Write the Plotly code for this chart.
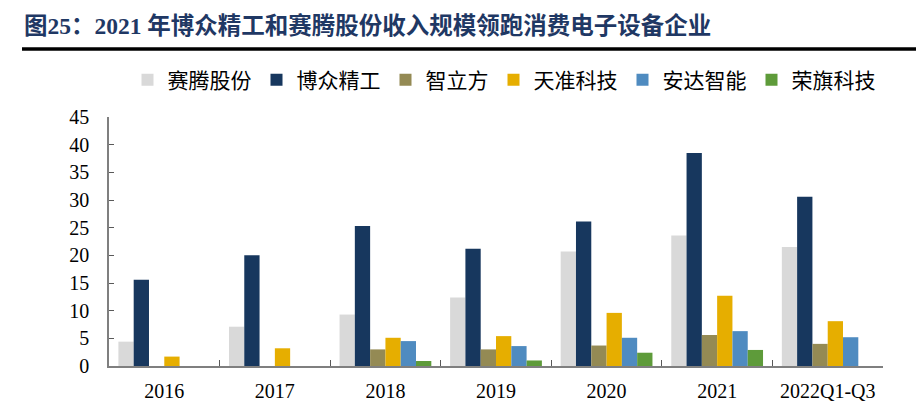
import plotly.graph_objects as go

categories = ["2016", "2017", "2018", "2019", "2020", "2021", "2022Q1-Q3"]
saiteng = [4.4, 7.1, 9.3, 12.4, 20.7, 23.6, 21.5]
bozhong = [15.6, 20.0, 25.3, 21.2, 26.1, 38.5, 30.6]
zhilifang = [None, None, 3.0, 3.0, 3.7, 5.6, 4.0]
tianzhun = [1.7, 3.2, 5.1, 5.4, 9.6, 12.7, 8.1]
anda = [None, None, 4.5, 3.6, 5.1, 6.3, 5.2]
rongqi = [None, None, 0.9, 1.0, 2.4, 2.9, None]

series = [
    ("赛腾股份", saiteng, "#D9D9D9"),
    ("博众精工", bozhong, "#17375E"),
    ("智立方", zhilifang, "#948A54"),
    ("天准科技", tianzhun, "#E6AE00"),
    ("安达智能", anda, "#4F8BC0"),
    ("荣旗科技", rongqi, "#5E9B3A"),
]

fig = go.Figure()
for name, vals, color in series:
    fig.add_trace(go.Bar(name=name, x=categories, y=vals, marker_color=color,
                         marker_line_width=0))

serif = "Liberation Serif, Times New Roman, serif"
cjk = "Liberation Serif, Noto Sans CJK SC, serif"

# page shows figure offset by ~8px (body margin); plot area in figure pixels
L, R, T, B = 101, 875, 109, 358
W = R - L
H = B - T


def px(x):
    return (x - L) / W


def py(y):
    return (B - y) / H


fig.update_layout(
    width=924, height=402,
    margin=dict(l=L, r=924 - R, t=T, b=402 - B, autoexpand=False),
    paper_bgcolor="white", plot_bgcolor="white",
    barmode="group", bargap=0.17, bargroupgap=0,
    showlegend=True,
    legend=dict(orientation="h", x=px(496), xanchor="center", y=py(72), yanchor="middle",
                font=dict(family="Noto Sans CJK SC", size=21, color="#000000"),
                itemwidth=30, traceorder="normal", bgcolor="rgba(0,0,0,0)"),
    xaxis=dict(type="category", showline=True, linecolor="#7F7F7F", linewidth=1.5,
               ticks="inside", tickson="boundaries", ticklen=6, tickcolor="#595959",
               tickfont=dict(family=serif, size=20, color="#000000"),
               ticklabelstandoff=6, showgrid=False, zeroline=False, automargin=False),
    yaxis=dict(range=[0, 45], dtick=5, tick0=0, showline=True, linecolor="#7F7F7F",
               linewidth=1.5, ticks="inside", ticklen=5, tickcolor="#595959",
               tickfont=dict(family=serif, size=20, color="#000000"),
               ticklabelstandoff=14, showgrid=False, zeroline=False, automargin=False),
    annotations=[dict(text="<b>图25：2021 年博众精工和赛腾股份收入规模领跑消费电子设备企业</b>",
                      xref="paper", yref="paper", x=px(14), y=py(18),
                      xanchor="left", yanchor="middle", showarrow=False,
                      font=dict(family=cjk, size=23.5, color="#1F3864"))],
    shapes=[dict(type="line", xref="paper", yref="paper",
                 x0=px(14), x1=px(930),
                 y0=py(41), y1=py(41),
                 line=dict(color="#000000", width=3.5))],
)

fig.write_html("out.html")
